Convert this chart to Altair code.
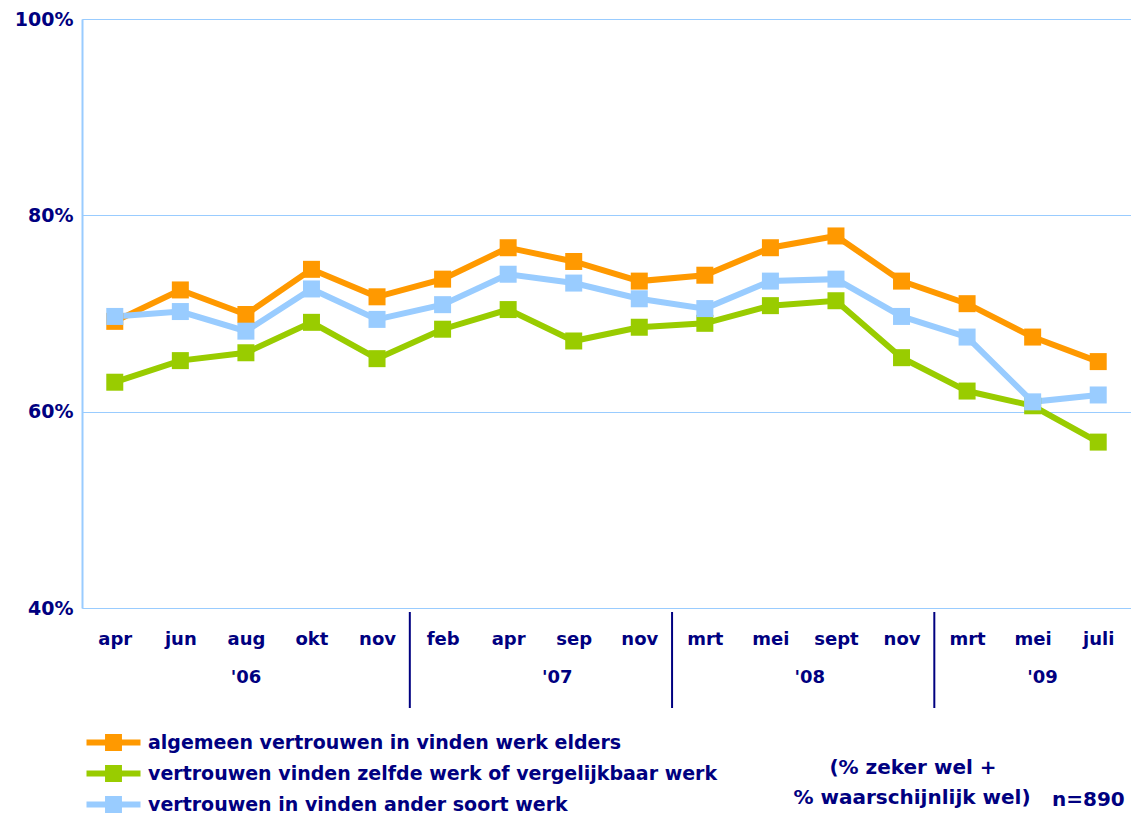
import altair as alt
import pandas as pd

months = ['apr', 'jun', 'aug', 'okt', 'nov', 'feb', 'apr', 'sep', 'nov',
          'mrt', 'mei', 'sept', 'nov', 'mrt', 'mei', 'juli']
series_names = ['algemeen vertrouwen in vinden werk elders',
                'vertrouwen vinden zelfde werk of vergelijkbaar werk',
                'vertrouwen in vinden ander soort werk']
algemeen = [69.2, 72.4, 69.9, 74.5, 71.7, 73.5, 76.7, 75.3, 73.3, 73.9, 76.7, 77.9, 73.3, 71.0, 67.6, 65.1]
zelfde = [63.0, 65.2, 66.0, 69.1, 65.4, 68.4, 70.4, 67.2, 68.6, 69.0, 70.8, 71.3, 65.5, 62.1, 60.6, 56.9]
ander = [69.7, 70.2, 68.2, 72.5, 69.4, 70.9, 74.0, 73.1, 71.5, 70.5, 73.3, 73.5, 69.7, 67.6, 61.0, 61.7]
colors = ['#FF9900', '#99CC00', '#99CCFF']

year_labels = ["'06", "'07", "'08", "'09"]
year_pos = [2, 6.75, 10.6, 14.15]
year_breaks = [4.5, 8.5, 12.5]

NAVY = '#000080'
FONT = 'DejaVu Sans'

rows = []
for name, vals in [(series_names[1], zelfde), (series_names[0], algemeen), (series_names[2], ander)]:
    for i, v in enumerate(vals):
        rows.append({'idx': i, 'value': v, 'series': name})
df = pd.DataFrame(rows)

label_expr = '[' + ','.join("'%s'" % m for m in months) + '][datum.value]'

x_enc = alt.X('idx:Q', scale=alt.Scale(domain=[-0.5, 15.5], nice=False, zero=False),
              axis=alt.Axis(values=list(range(16)), labelExpr=label_expr, title=None,
                            ticks=False, domain=False, grid=False, labelPadding=22,
                            labelFontSize=18, labelFont=FONT, labelFontWeight='bold',
                            labelColor=NAVY, labelFlush=False))
y_enc = alt.Y('value:Q', scale=alt.Scale(domain=[40, 100], nice=False, zero=False),
              axis=alt.Axis(values=[40, 60, 80, 100], labelExpr="datum.value + '%'", title=None,
                            ticks=False, domain=True, domainColor='#99CCFF', domainWidth=2,
                            grid=True, gridColor='#99CCFF', gridWidth=1, labelPadding=9,
                            labelFontSize=19, labelFont=FONT, labelFontWeight='bold',
                            labelColor=NAVY, labelFlush=False))

legend_path = ("M-5,-0.33L1,-0.33L1,0.33L-5,0.33Z "
               "M-2.94,-0.94L-1.06,-0.94L-1.06,0.94L-2.94,0.94Z")

color_scale = alt.Scale(domain=series_names, range=colors)
legend = alt.Legend(title=None, orient='none', legendX=40, legendY=714,
                    symbolType=legend_path, symbolSize=324,
                    symbolStrokeWidth=0, symbolOpacity=1,
                    labelFontSize=19, labelFont=FONT, labelFontWeight='bold',
                    labelColor=NAVY, labelLimit=0, labelOffset=7,
                    rowPadding=11, padding=0)

lines = alt.Chart(df).mark_line(strokeWidth=6).encode(
    x=x_enc, y=y_enc,
    color=alt.Color('series:N', scale=color_scale, legend=legend),
    detail='series:N',
)

points = alt.Chart(df).mark_point(shape='square', filled=True, size=289, opacity=1).encode(
    x=x_enc, y=y_enc,
    color=alt.Color('series:N', scale=color_scale, legend=legend),
)

breaks_df = pd.DataFrame({'x': year_breaks})
breaks = alt.Chart(breaks_df).mark_rule(color=NAVY, strokeWidth=2).encode(
    x='x:Q', y=alt.value(593), y2=alt.value(689))

years_df = pd.DataFrame({'x': year_pos, 'label': year_labels})
years = alt.Chart(years_df).mark_text(font=FONT, fontSize=18, fontWeight='bold', color=NAVY,
                                      baseline='middle').encode(
    x='x:Q', y=alt.value(659), text='label:N')

note1 = alt.Chart(pd.DataFrame({'t': ['(% zeker wel +']})).mark_text(
    font=FONT, fontSize=20, fontWeight='bold', color=NAVY, baseline='middle', align='center'
).encode(x=alt.value(831), y=alt.value(749), text='t:N')
note2 = alt.Chart(pd.DataFrame({'t': ['% waarschijnlijk wel)']})).mark_text(
    font=FONT, fontSize=20, fontWeight='bold', color=NAVY, baseline='middle', align='center'
).encode(x=alt.value(830), y=alt.value(779), text='t:N')
note3 = alt.Chart(pd.DataFrame({'t': ['n=890']})).mark_text(
    font=FONT, fontSize=20, fontWeight='bold', color=NAVY, baseline='middle', align='left'
).encode(x=alt.value(970), y=alt.value(781), text='t:N')

chart = alt.layer(lines, points, breaks, years, note1, note2, note3).properties(
    width=1049, height=589,
    autosize=alt.AutoSizeParams(type='none'),
    padding={'left': 74, 'top': 11, 'right': 0, 'bottom': 205},
).configure_view(stroke=None).configure(background='white')

chart.save('out.html', embed_options={'renderer': 'svg', 'actions': False})
